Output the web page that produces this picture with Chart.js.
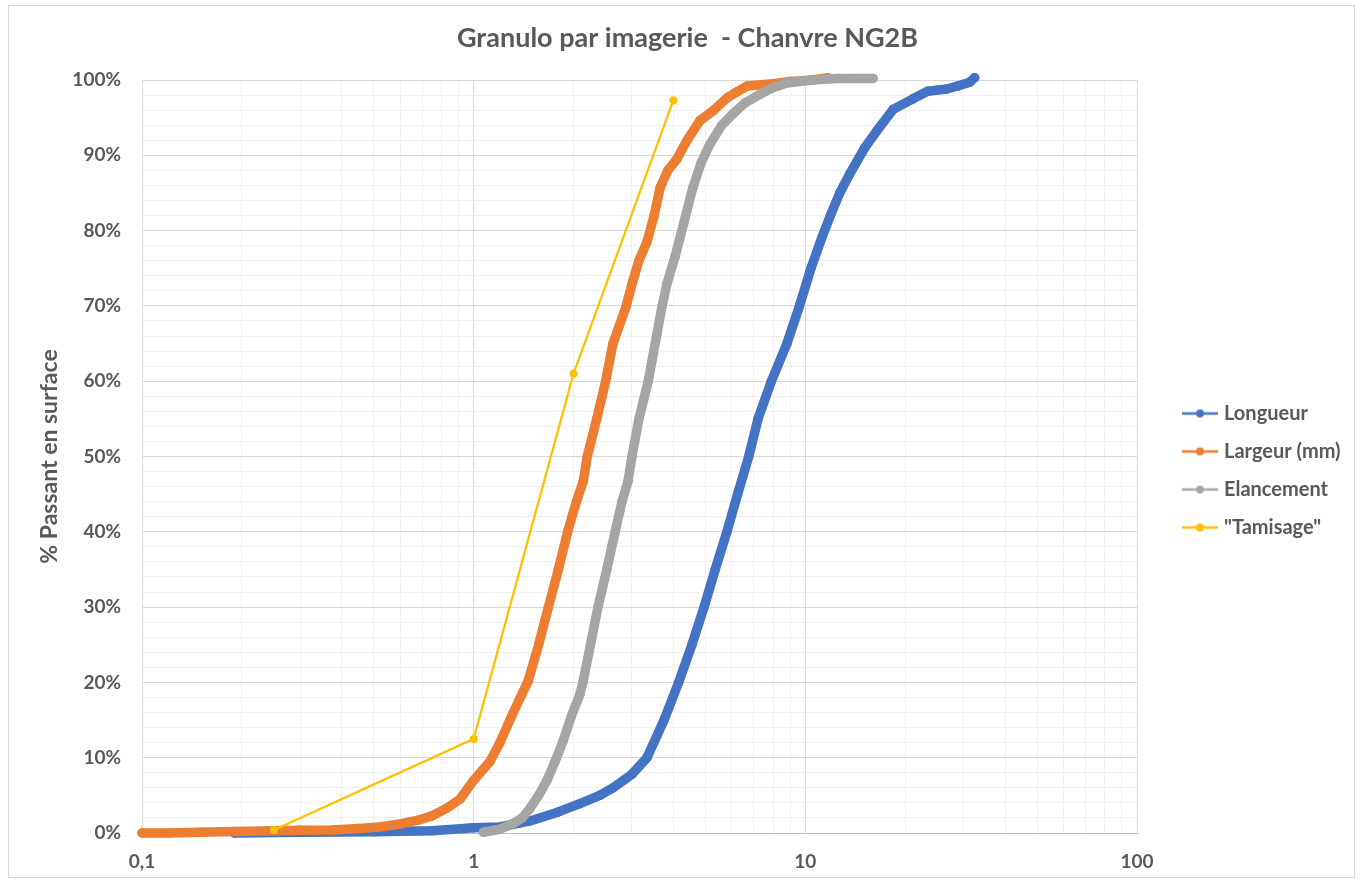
<!DOCTYPE html>
<html><head><meta charset="utf-8">
<script src="https://cdn.jsdelivr.net/npm/chart.js@4.4.1/dist/chart.umd.min.js"></script>
<style>
html,body{margin:0;padding:0;background:#fff;overflow:hidden}
#wrap{position:relative;width:1361px;height:883px}
#frame{position:absolute;left:8px;top:5px;width:1345px;height:871px;border:1px solid #D9D9D9;pointer-events:none}
</style></head><body>
<div id="wrap"><canvas id="c" width="1361" height="883"></canvas><div id="frame"></div></div>
<script>
// ---- data ----
const seriesNames = ['Longueur', 'Largeur (mm)', 'Elancement', '"Tamisage"'];
const longueurX = [0.19,0.3,0.5,0.75,1.0,1.2,1.48,1.8,2.09,2.4,2.63,3.0,3.33,3.75,4.15,4.55,4.95,5.35,5.8,6.25,6.75,7.2,7.9,8.8,9.6,10.4,11.2,11.9,12.7,13.6,15.1,16.4,18.4,21.1,23.4,26.7,28.8,31.3,32.4];
const longueurY = [0,0.1,0.15,0.3,0.7,0.8,1.6,2.8,3.9,5.0,6.0,7.8,10,15,20,25,30,35,40,45,50,55,60,65,70,75,79,82,85,87.5,91,93.2,96.1,97.5,98.5,98.8,99.2,99.7,100.3];
const largeurX = [0.1,0.12,0.15,0.19,0.25,0.3,0.376,0.45,0.52,0.6,0.68,0.75,0.83,0.91,1.0,1.12,1.2,1.31,1.46,1.57,1.68,1.8,1.92,2.04,2.14,2.2,2.35,2.5,2.63,2.87,3.02,3.15,3.33,3.5,3.65,3.85,4.1,4.4,4.81,5.3,5.8,6.2,6.67,7.98,9.0,10.5,11.7];
const largeurY = [0,0,0.1,0.2,0.3,0.35,0.4,0.6,0.8,1.2,1.7,2.3,3.3,4.5,7.0,9.5,12,15.8,20.2,25,30,35,40,44,46.7,50,55,60,65,69.7,73.3,76,78.5,82,85.7,88,89.5,92,94.6,96,97.6,98.4,99.2,99.5,99.8,100,100.3];
const elancementX = [1.07,1.2,1.31,1.4,1.48,1.57,1.66,1.76,1.86,1.97,2.09,2.14,2.25,2.37,2.52,2.67,2.8,2.92,3.0,3.15,3.36,3.57,3.70,3.83,4.04,4.3,4.58,4.85,5.16,5.6,6.05,6.6,7.3,8.0,8.8,10.5,12.5,14.3,15.3,16.0];
const elancementY = [0.1,0.5,1.2,2.0,3.3,5.0,6.9,9.5,12.2,15.5,18.4,20.2,25,30,35,40,44,46.7,50,55,60,66.3,70,73,76.4,81,85.7,89,91.5,94,95.5,97,98.1,99,99.6,100,100.2,100.2,100.2,100.2];
const tamisageX = [0.25,1,2,4];
const tamisageY = [0.4,12.5,61,97.3];
const xGridValues = [0.1,0.2,0.3,0.4,0.5,0.6,0.7,0.8,0.9,1,2,3,4,5,6,7,8,9,10,20,30,40,50,60,70,80,90,100];
const xTickLabels = {0.1:'0,1', 1:'1', 10:'10', 100:'100'};
const chartTitle = 'Granulo par imagerie  - Chanvre NG2B';
const yTitle = '% Passant en surface';

// ---- styles ----
const colors = ['#4472C4', '#ED7D31', '#A5A5A5', '#FFC000'];
const FONT = 'Lato, "Open Sans", sans-serif';
const TXT = '#595959';
const LEGEND_W = 224, LEG_DX = 31, LEG_DY = 29;

function pts(xs, ys){ return xs.map((x,i)=>({x:x, y:ys[i]})); }
function icon(color){
  const c=document.createElement('canvas'); c.width=36; c.height=10;
  const g=c.getContext('2d'); g.strokeStyle=color; g.lineWidth=2.5;
  g.beginPath(); g.moveTo(0,5); g.lineTo(36,5); g.stroke();
  g.fillStyle=color; g.beginPath(); g.arc(18,5,4,0,Math.PI*2); g.fill();
  return c;
}
const icons = colors.map(icon);

function dense(i, xs, ys){
  return {label: seriesNames[i], data: pts(xs, ys), borderColor: colors[i], backgroundColor: colors[i],
    borderWidth: 9.5, pointRadius: 4.75, pointBorderWidth: 0, pointHoverRadius: 4.75,
    borderCapStyle:'round', borderJoinStyle:'round', tension: 0, clip: false, order: 3 - i};
}
const datasets = [
  dense(0, longueurX, longueurY),
  dense(1, largeurX, largeurY),
  dense(2, elancementX, elancementY),
  {label: seriesNames[3], data: pts(tamisageX, tamisageY), borderColor: colors[3], backgroundColor: colors[3],
    borderWidth: 2.25, pointRadius: 4, pointBorderWidth: 0, tension: 0, clip: false, order: 0}
];

const layoutPlugin = {
  id: 'layoutFix',
  beforeLayout(chart){
    const lg = chart.legend;
    if (lg && !lg._patched){
      const f = lg.fit.bind(lg);
      lg.fit = function(){ f(); this.width = LEGEND_W; };
      lg._patched = true;
    }
  },
  afterLayout(chart){
    const lg = chart.legend;
    if (lg){ lg.left += LEG_DX; lg.right += LEG_DX; lg.top += LEG_DY; lg.bottom += LEG_DY; }
  }
};

new Chart(document.getElementById('c'), {
  type: 'line',
  data: { datasets },
  plugins: [layoutPlugin],
  options: {
    responsive: false, animation: false, devicePixelRatio: 1,
    layout: { padding: {left: 14, right: 0, top: 0, bottom: 0} },
    plugins: {
      title: { display: true, text: chartTitle, color: TXT, font: {family: FONT, size: 27, weight: 'bold'}, padding: {top: 22, bottom: 25.6} },
      legend: {
        position: 'right', align: 'center',
        labels: {
          usePointStyle: true, pointStyleWidth: 28, padding: 18, color: TXT,
          font: {family: FONT, size: 20, weight: 'bold'},
          generateLabels(chart){
            return chart.data.datasets.map((ds,i)=>({text: ds.label, pointStyle: icons[i], fillStyle: ds.borderColor,
              strokeStyle: ds.borderColor, lineWidth: 0, hidden: !chart.isDatasetVisible(i), datasetIndex: i, fontColor: TXT}));
          }
        }
      },
      tooltip: {enabled: false}
    },
    scales: {
      x: {
        type: 'logarithmic', min: 0.1, max: 100,
        afterBuildTicks(scale){ scale.ticks = xGridValues.map(v=>({value: v})); },
        afterFit(scale){ scale.height = 50; },
        grid: { drawTicks: false, color: c => (c.tick && xTickLabels[c.tick.value] !== undefined) ? '#D9D9D9' : '#F0F0F0', lineWidth: 1 },
        border: { color: '#BFBFBF', width: 1 },
        ticks: { autoSkip: false, maxRotation: 0, padding: 17, color: TXT, font: {family: FONT, size: 19, weight: 'bold'},
          callback: (v) => xTickLabels[v] !== undefined ? xTickLabels[v] : '' }
      },
      y: {
        type: 'linear', min: 0, max: 100,
        afterFit(scale){ scale.width = 128; },
        grid: { drawTicks: false, color: c => (c.tick && c.tick.value % 10 === 0) ? '#D9D9D9' : '#F0F0F0', lineWidth: 1 },
        border: { color: '#D9D9D9', width: 1 },
        ticks: { stepSize: 2, autoSkip: false, padding: 21, color: TXT, font: {family: FONT, size: 19, weight: 'bold'},
          callback: (v) => v % 10 === 0 ? v + '%' : '' },
        title: { display: true, text: yTitle, color: TXT, font: {family: FONT, size: 23, weight: 'bold'}, padding: {top: 22, bottom: 0} }
      }
    }
  }
});
</script>
</body></html>
